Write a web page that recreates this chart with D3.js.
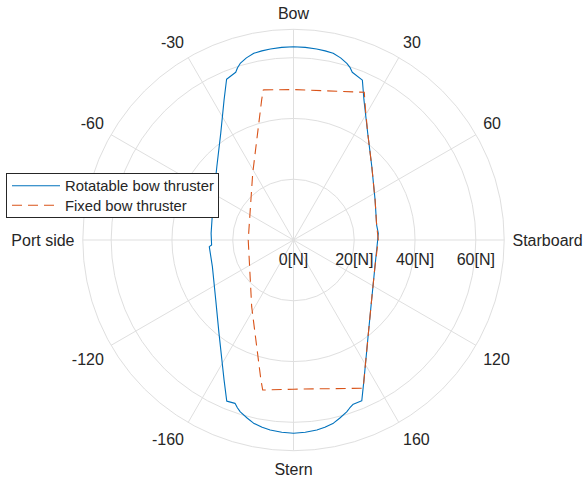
<!DOCTYPE html>
<html>
<head>
<meta charset="utf-8">
<script src="https://cdn.jsdelivr.net/npm/d3@7"></script>
<style>
  html, body { margin: 0; padding: 0; background: #ffffff; }
  svg { display: block; font-family: "Liberation Sans", Arial, Helvetica, sans-serif; }
</style>
</head>
<body>
<svg id="chart" width="583" height="480"></svg>
<script>
// ---- data (angles in degrees, clockwise from Bow; force in N) ----
const rotatableAngle = [0, 3.5, 6.9, 9.5, 12.0, 14.5, 16.8, 18.2, 19.3, 23.3, 26.7, 34.8, 46.9, 63.9, 79.8, 85.5, 90, 108.1, 127.5, 141.3, 153.3, 157.0, 160.0, 161.5, 162.8, 165.5, 167.7, 170.5, 173.0, 176.5, 180,
  -176.5, -173.0, -170.5, -167.7, -165.5, -162.8, -161.5, -160.3, -157.5, -153.6, -141.4, -127.6, -108.2, -94.5, -93.5, -85.4, -63.5, -46.3, -34.3, -26.4, -22.6, -19.0, -18.0, -16.8, -14.5, -12.0, -9.5, -6.9, -3.5, 0];
const rotatableForce = [63.6, 63.5, 63.3, 63.1, 62.8, 61.9, 60.7, 59.7, 58.5, 57.3, 51.6, 42.8, 35.3, 29.9, 27.8, 28.0, 27.7, 28.2, 32.4, 39.4, 51.6, 57.5, 57.5, 58.3, 59.2, 60.6, 61.7, 62.5, 63.0, 63.4, 63.6,
  63.4, 63.0, 62.5, 61.7, 60.6, 59.2, 58.2, 57.1, 57.4, 51.4, 39.3, 32.3, 28.1, 27.8, 27.0, 27.2, 29.5, 34.9, 42.5, 51.4, 57.3, 58.4, 59.6, 60.7, 61.9, 62.8, 63.1, 63.3, 63.5, 63.6];

const fixedAngle = [-11.4, 0, 25.6, 29.0, 34.8, 46.9, 63.9, 79.8, 90, 108.1, 127.5, 141.3, 153.3, 154.8, 180, -168.4, -166.9, -147.9, -90, -31.5, -12.8, -11.4];
const fixedForce = [50.4, 49.5, 53.9, 48.9, 42.8, 35.3, 29.9, 27.8, 27.9, 28.2, 32.4, 39.4, 51.6, 53.9, 49.1, 50.4, 47.3, 25.9, 14.9, 25.7, 47.3, 50.4];

const seriesNames = ["Rotatable bow thruster", "Fixed bow thruster"];

const thetaTicks = [0, 30, 60, 90, 120, 150, 180, -150, -120, -90, -60, -30];
const thetaTickLabels = ["Bow", "30", "60", "Starboard", "120", "160", "Stern", "-160", "-120", "Port side", "-60", "-30"];

const rTicks = [0, 20, 40, 60];
const rTickLabels = ["0[N]", "20[N]", "40[N]", "60[N]"];
const rMax = 69.34;

// ---- layout ----
const cx = 293.5, cy = 240, R = 210.7;
const gridColor = "#dfdfdf", textColor = "#262626";
const blue = "#0072BD", orange = "#D95319";

const svg = d3.select("#chart");
const r = d3.scaleLinear().domain([0, rMax]).range([0, R]);
const rad = d => d * Math.PI / 180;
const px = (a, v) => r(v) * Math.sin(rad(a));
const py = (a, v) => -r(v) * Math.cos(rad(a));

const g = svg.append("g").attr("transform", `translate(${cx},${cy})`);

// grid circles
const circles = rTicks.filter(t => t > 0).concat([rMax]);
g.selectAll("circle.grid").data(circles).enter().append("circle")
  .attr("class", "grid").attr("r", d => r(d))
  .attr("fill", "none").attr("stroke", gridColor).attr("stroke-width", 1);

// spokes
g.selectAll("line.spoke").data(thetaTicks).enter().append("line")
  .attr("x1", 0).attr("y1", 0)
  .attr("x2", d => px(d, rMax)).attr("y2", d => py(d, rMax))
  .attr("stroke", gridColor).attr("stroke-width", 1);

// series
const line = d3.line().x(d => px(d[0], d[1])).y(d => py(d[0], d[1]));
const rotData = d3.zip(rotatableAngle, rotatableForce);
const fixData = d3.zip(fixedAngle, fixedForce);

g.append("path").datum(rotData).attr("d", line)
  .attr("fill", "none").attr("stroke", blue).attr("stroke-width", 1.1)
  .attr("stroke-linejoin", "round");
g.append("path").datum(fixData).attr("d", line)
  .attr("fill", "none").attr("stroke", orange).attr("stroke-width", 1.1)
  .attr("stroke-dasharray", "10,6");

// theta labels
const La = 219;
g.selectAll("text.theta").data(thetaTicks).enter().append("text")
  .attr("class", "theta")
  .attr("x", d => La * Math.sin(rad(d)))
  .attr("y", d => -La * Math.cos(rad(d)))
  .attr("dy", d => { const c = Math.cos(rad(d)); return c > 0.01 ? -2 : (c < -0.01 ? 15.5 : 6.3); })
  .attr("text-anchor", d => { const s = Math.sin(rad(d)); return s > 0.01 ? "start" : (s < -0.01 ? "end" : "middle"); })
  .attr("font-size", 16).attr("fill", textColor)
  .text((d, i) => thetaTickLabels[i]);

// r tick labels
g.selectAll("text.rtick").data(rTicks).enter().append("text")
  .attr("x", d => r(d)).attr("y", 25)
  .attr("text-anchor", "middle").attr("font-size", 16).attr("fill", textColor)
  .text((d, i) => rTickLabels[i]);

// legend
const leg = svg.append("g");
leg.append("rect").attr("x", 6.5).attr("y", 173.5).attr("width", 212).attr("height", 44)
  .attr("fill", "#ffffff").attr("stroke", "#262626").attr("stroke-width", 1);
const legItems = [
  { name: seriesNames[0], color: blue, dash: null, y: 185.7 },
  { name: seriesNames[1], color: orange, dash: "10,6", y: 205.2 }
];
legItems.forEach(it => {
  leg.append("line").attr("x1", 12).attr("x2", 60).attr("y1", it.y).attr("y2", it.y)
    .attr("stroke", it.color).attr("stroke-width", 1.1)
    .attr("stroke-dasharray", it.dash);
  leg.append("text").attr("x", 65).attr("y", it.y + 5.5)
    .attr("font-size", 14.8).attr("fill", textColor).text(it.name);
});
</script>
</body>
</html>
